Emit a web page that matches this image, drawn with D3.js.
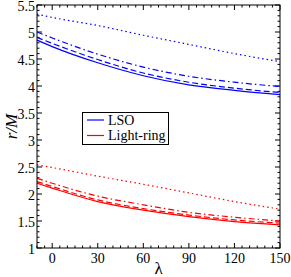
<!DOCTYPE html>
<html>
<head>
<meta charset="UTF-8">
<script src="https://d3js.org/d3.v7.min.js"></script>
<style>
  body { margin: 0; background: #fff; }
  text { font-family: "Liberation Serif", "DejaVu Serif", serif; }
</style>
</head>
<body>
<div id="chart"></div>
<script>
// λ samples
const lambda = [-10, 0, 30, 60, 90, 120, 150];

// LSO (blue)
const lsoSolid   = [4.85, 4.73, 4.43, 4.19, 4.02, 3.92, 3.84];
const lsoDashed  = [4.90, 4.79, 4.49, 4.24, 4.07, 3.96, 3.88];
const lsoDashDot = [5.00, 4.89, 4.59, 4.35, 4.18, 4.07, 3.99];
const lsoDotted  = [5.33, 5.27, 5.12, 4.94, 4.77, 4.60, 4.45];

// Light-ring (red)
const lrSolid    = [2.20, 2.11, 1.86, 1.70, 1.58, 1.49, 1.43];
const lrDashed   = [2.23, 2.14, 1.89, 1.73, 1.61, 1.52, 1.46];
const lrDashDot  = [2.29, 2.20, 1.96, 1.80, 1.66, 1.57, 1.50];
const lrDotted   = [2.54, 2.49, 2.33, 2.18, 2.02, 1.86, 1.72];

const xTicks = [0, 30, 60, 90, 120, 150];
const yTicks = [1, 1.5, 2, 2.5, 3, 3.5, 4, 4.5, 5, 5.5];
const legendLabels = ["LSO", "Light-ring"];

const W = 291, H = 277;
const margin = { top: 5, right: 11, bottom: 29, left: 37 };
const width = W - margin.left - margin.right;
const height = H - margin.top - margin.bottom;

const svg = d3.select("#chart").append("svg")
  .attr("width", W).attr("height", H);
const g = svg.append("g")
  .attr("transform", `translate(${margin.left},${margin.top})`);

const x = d3.scaleLinear().domain([-10, 150]).range([0, width]);
const y = d3.scaleLinear().domain([1, 5.5]).range([height, 0]);

// ticks (inside, all four sides)
const xMinor = d3.range(-10, 151, 5);
const yMinor = d3.range(10, 56, 1).map(d => d / 10);
const tk = g.append("g").attr("stroke", "#000").attr("stroke-width", 1);
xMinor.forEach(v => {
  const major = xTicks.includes(v);
  const len = major ? 5 : 2.5;
  tk.append("line").attr("x1", x(v)).attr("x2", x(v)).attr("y1", height).attr("y2", height - len);
  tk.append("line").attr("x1", x(v)).attr("x2", x(v)).attr("y1", 0).attr("y2", len);
});
yMinor.forEach(v => {
  const major = yTicks.some(t => Math.abs(t - v) < 1e-6);
  const len = major ? 5 : 2.5;
  tk.append("line").attr("y1", y(v)).attr("y2", y(v)).attr("x1", 0).attr("x2", len);
  tk.append("line").attr("y1", y(v)).attr("y2", y(v)).attr("x1", width).attr("x2", width - len);
});

// tick labels
g.selectAll(".xl").data(xTicks).enter().append("text")
  .attr("x", d => x(d)).attr("y", height + 15)
  .attr("text-anchor", "middle").attr("font-size", 14).text(d => d);
g.selectAll(".yl").data(yTicks).enter().append("text")
  .attr("x", -2).attr("y", d => y(d) + 5.5)
  .attr("text-anchor", "end").attr("font-size", 14).text(d => d);

// curves
const line = d3.line().curve(d3.curveMonotoneX)
  .x((d, i) => x(lambda[i])).y(d => y(d));
const series = [
  [lsoSolid, "#0000ff", null], [lsoDashed, "#0000ff", "6,3"],
  [lsoDashDot, "#0000ff", "6,3,1.5,3"], [lsoDotted, "#0000ff", "1.5,3"],
  [lrSolid, "#ff0000", null], [lrDashed, "#ff0000", "6,3"],
  [lrDashDot, "#ff0000", "6,3,1.5,3"], [lrDotted, "#ff0000", "1.5,3"]
];
series.forEach(([vals, col, dash]) => {
  g.append("path").datum(vals)
    .attr("fill", "none").attr("stroke", col).attr("stroke-width", 1.2)
    .attr("stroke-dasharray", dash).attr("d", line);
});

// frame
g.append("rect").attr("width", width).attr("height", height)
  .attr("fill", "none").attr("stroke", "#000").attr("stroke-width", 1);

// legend
const lg = svg.append("g");
lg.append("rect").attr("x", 82.5).attr("y", 112.5).attr("width", 86).attr("height", 32)
  .attr("fill", "#fff").attr("stroke", "#000").attr("stroke-width", 1);
[["#0000ff", 120], ["#ff0000", 135.5]].forEach(([c, yy], i) => {
  lg.append("line").attr("x1", 87).attr("x2", 104).attr("y1", yy).attr("y2", yy)
    .attr("stroke", c).attr("stroke-width", 1.2);
  lg.append("text").attr("x", 108).attr("y", yy + 4.5).attr("font-size", 14)
    .text(legendLabels[i]);
});

// axis titles
svg.append("text").attr("x", margin.left + width / 2).attr("y", 274)
  .attr("text-anchor", "middle").attr("font-size", 17).text("λ");
svg.append("text").attr("transform", `translate(17,${margin.top + height / 2}) rotate(-90)`)
  .attr("text-anchor", "middle").attr("font-size", 17).attr("font-style", "italic")
  .text("r/M");
</script>
</body>
</html>
